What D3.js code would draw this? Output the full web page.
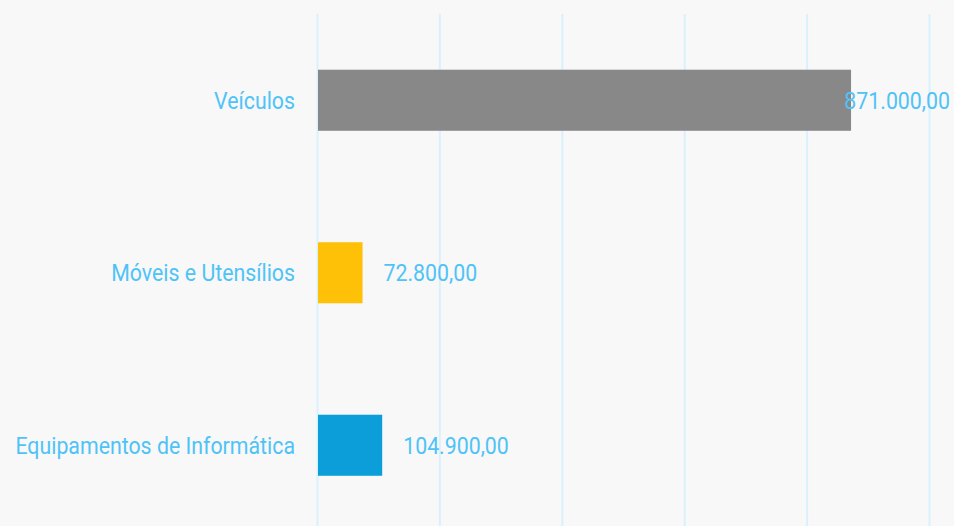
<!DOCTYPE html>
<html>
<head>
<meta charset="utf-8">
<script src="https://cdn.jsdelivr.net/npm/d3@7"></script>
<style>
  body { margin: 0; background: #f8f8f8; }
  svg { display: block; }
</style>
</head>
<body>
<div id="container"></div>
<script>
/* DATA */
const categories = ["Veículos", "Móveis e Utensílios", "Equipamentos de Informática"];
const values = [871000, 72800, 104900];
const colors = ["#888888", "#ffc107", "#0b9ed8"];
const gridTicks = [0, 200000, 400000, 600000, 800000, 1000000];

const width = 954;
const height = 526;
const textColor = "#4fc3f7";
const squeeze = 0.888; // condensed look

const data = categories.map((c, i) => ({ cat: c, value: values[i], color: colors[i] }));

const svg = d3.select("#container")
  .append("svg")
  .attr("width", width)
  .attr("height", height)
  .style("font-family", "Roboto, sans-serif");

svg.append("rect")
  .attr("width", width)
  .attr("height", height)
  .attr("fill", "#f8f8f8");

/* SCALES */
const xScale = d3.scaleLinear()
  .domain([0, 1000000])
  .range([318, 930]);

const yScale = d3.scaleBand()
  .domain(categories)
  .range([14, 531.5])
  .paddingInner(0.646)
  .paddingOuter(0.323);

// grid lines
svg.append("g")
  .selectAll("line")
  .data(gridTicks)
  .join("line")
  .attr("x1", d => xScale(d) - 0.5)
  .attr("x2", d => xScale(d) - 0.5)
  .attr("y1", 14)
  .attr("y2", height)
  .attr("stroke", "#d9f1fc")
  .attr("stroke-width", 2);

// bars
svg.append("g")
  .selectAll("rect")
  .data(data)
  .join("rect")
  .attr("x", xScale(0))
  .attr("y", d => yScale(d.cat))
  .attr("width", d => xScale(d.value) - xScale(0))
  .attr("height", yScale.bandwidth())
  .attr("fill", d => d.color);

// category labels
svg.append("g")
  .selectAll("text")
  .data(data)
  .join("text")
  .attr("transform", d => `translate(295,${yScale(d.cat) + yScale.bandwidth() / 2}) scale(${squeeze},1)`)
  .attr("text-anchor", "end")
  .attr("dy", "0.35em")
  .attr("fill", textColor)
  .style("font-size", "24px")
  .text(d => d.cat);

// value labels
const fmt = d3.formatLocale({ decimal: ",", thousands: ".", grouping: [3], currency: ["", ""] }).format(",.2f");

svg.append("g")
  .selectAll("text")
  .data(data)
  .join("text")
  .attr("text-anchor", "start")
  .attr("dy", "0.35em")
  .attr("fill", textColor)
  .style("font-size", "24px")
  .text(d => fmt(d.value))
  .each(function (d) {
    const w = this.getComputedTextLength() * squeeze;
    const x = Math.min(xScale(d.value) + 21, width - 4 - w);
    d3.select(this).attr("transform",
      `translate(${x},${yScale(d.cat) + yScale.bandwidth() / 2}) scale(${squeeze},1)`);
  });
</script>
</body>
</html>
